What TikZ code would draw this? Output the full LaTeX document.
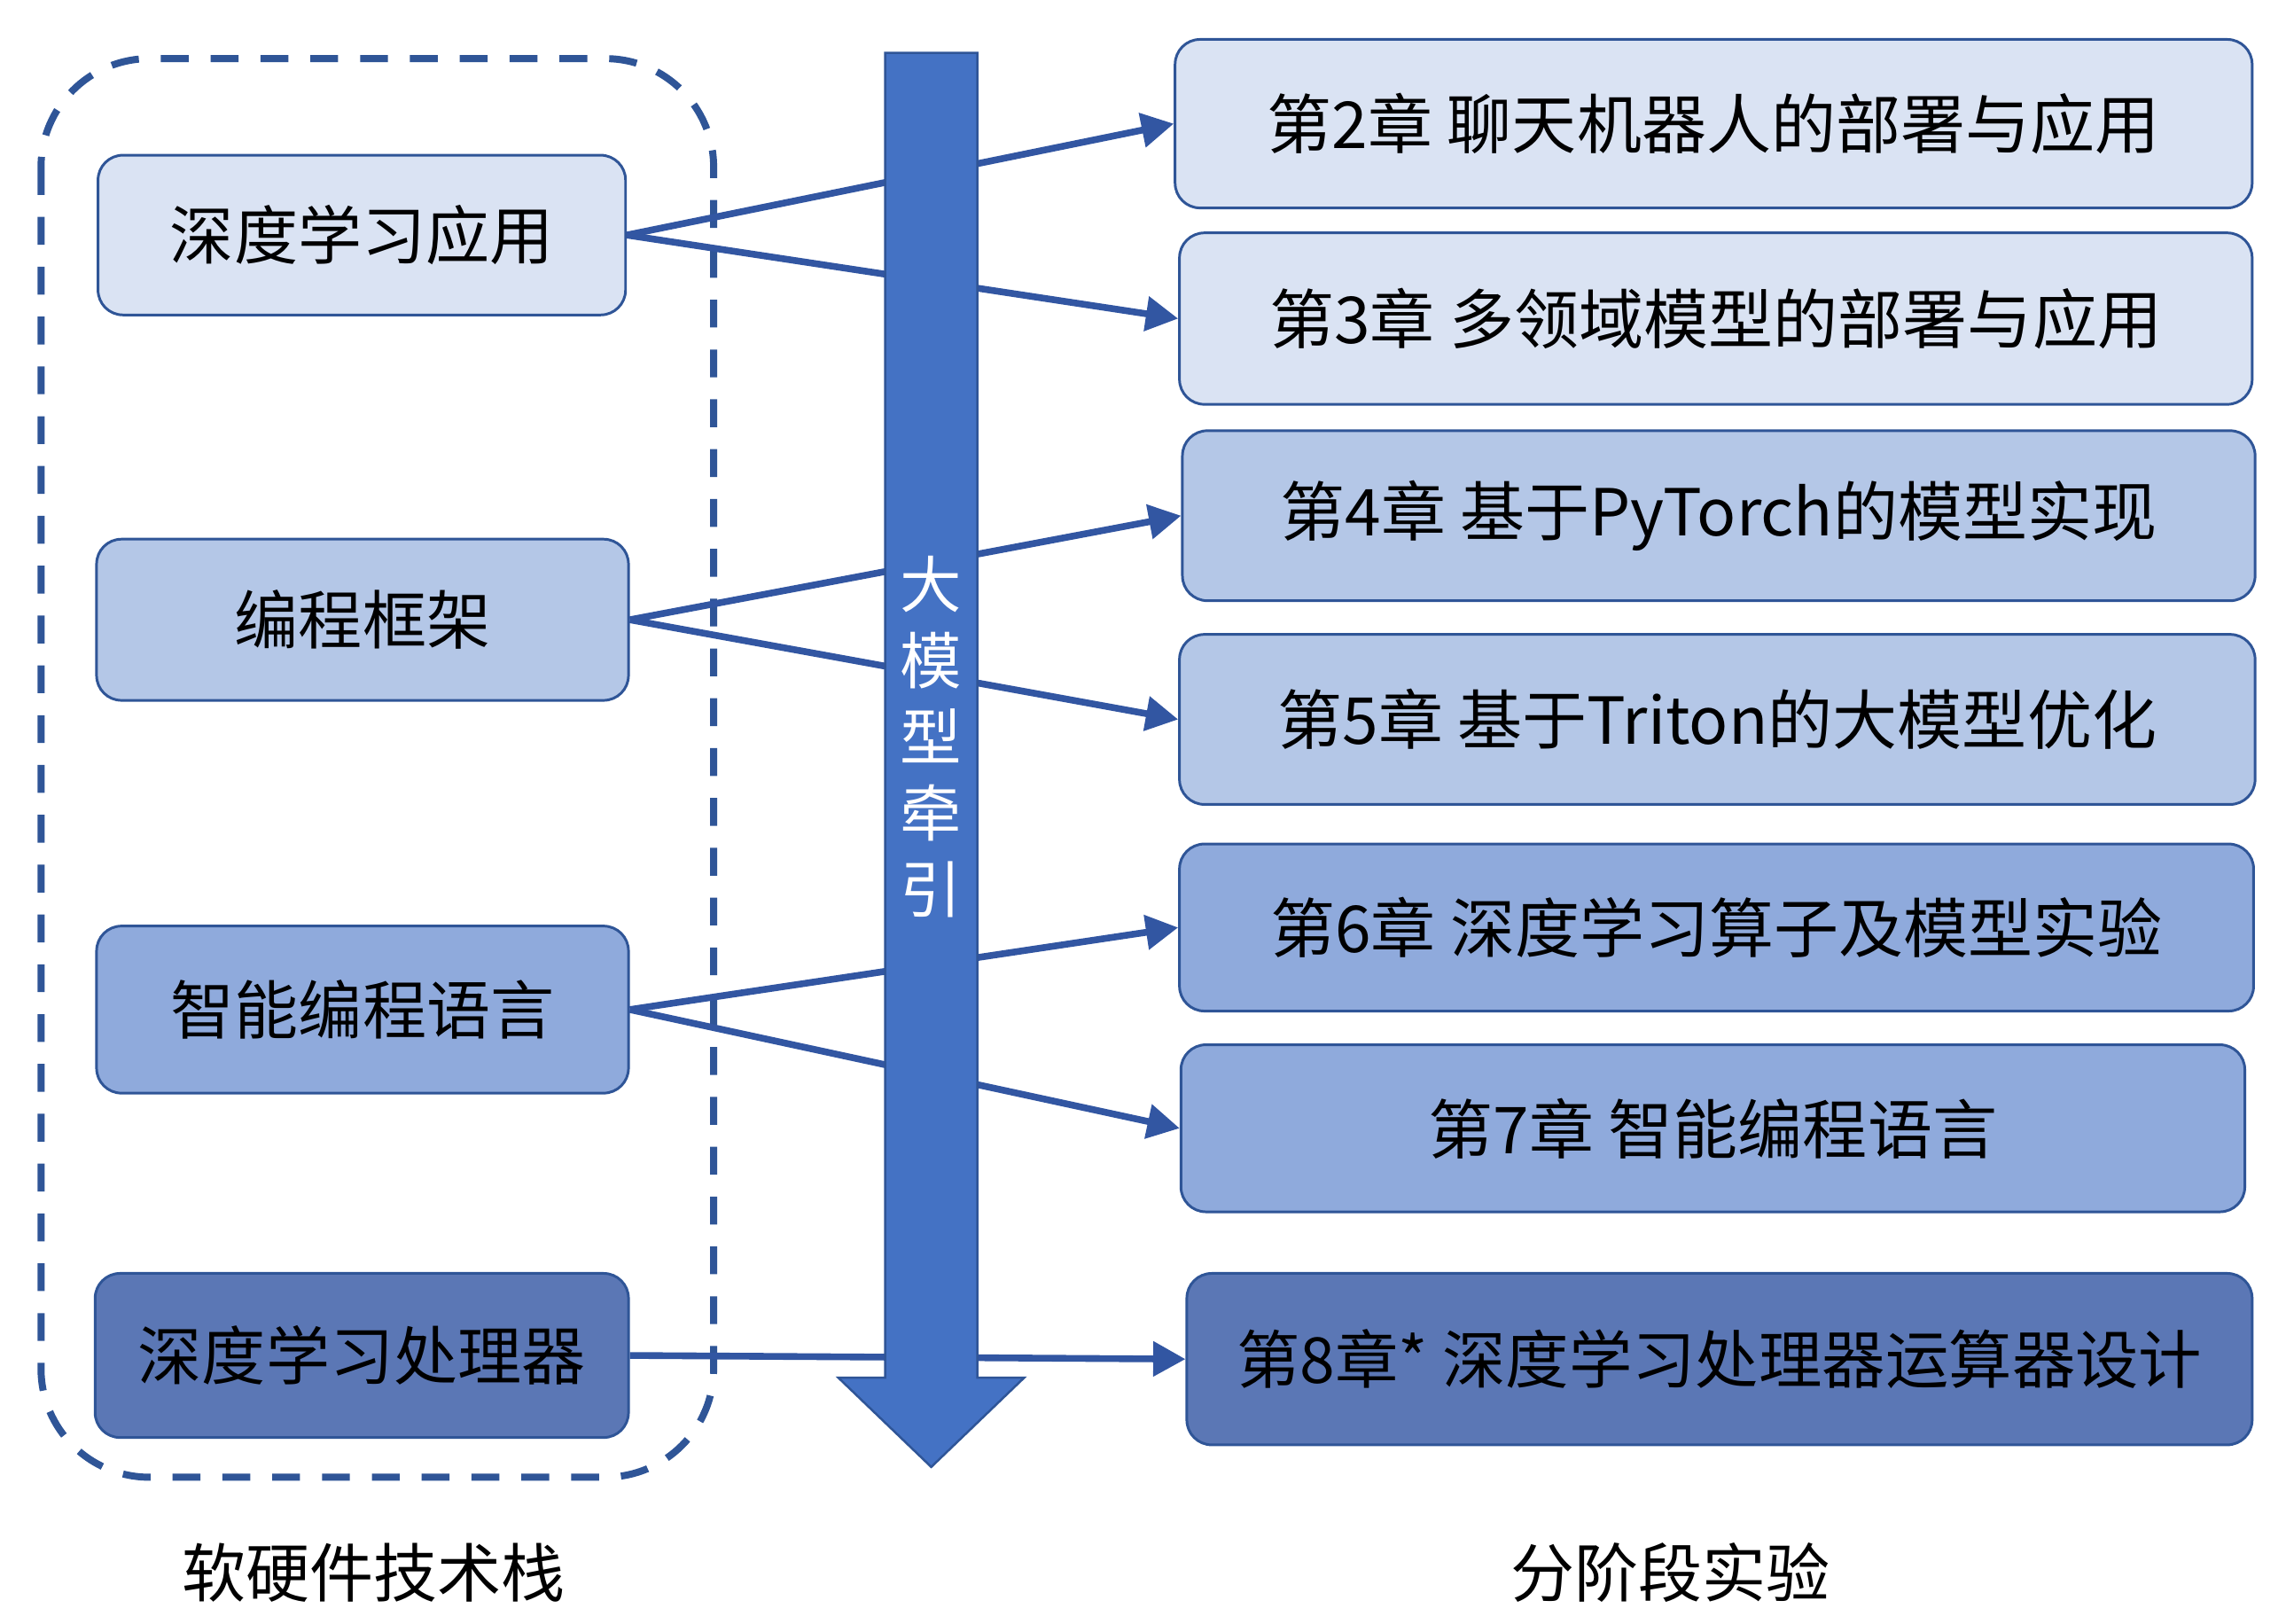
\documentclass[tikz,border=0pt]{standalone}
\usepackage{fontspec}
\setmainfont{Noto Sans CJK SC}
\usetikzlibrary{arrows.meta}
\definecolor{cA}{HTML}{DAE3F3}
\definecolor{cB}{HTML}{B4C7E7}
\definecolor{cC}{HTML}{8FAADC}
\definecolor{cD}{HTML}{5B77B5}
\definecolor{bd}{HTML}{2F5597}
\definecolor{ln}{HTML}{3256A2}
\definecolor{ar}{HTML}{4472C4}
\begin{document}
\begin{tikzpicture}[x=0.5pt,y=-0.5pt,
  box/.style={draw=bd, line width=0.9pt, rounded corners=8.5pt, inner sep=0pt, anchor=north west},
  ltxt/.style={font=\fontsize{21.8pt}{26pt}\selectfont},
  rtxt/.style={font=\fontsize{22.1pt}{26pt}\selectfont},
  conn/.style={draw=ln, line width=2.3pt, -{Triangle[length=11pt,width=11.5pt]}},
  lab/.style={font=\fontsize{21.8pt}{26pt}\selectfont, inner sep=0pt}]
\useasboundingbox (0,0) rectangle (1560,1107.6);
% dashed group frame
\draw[bd, line width=2.4pt, dash pattern=on 9.5pt off 7.5pt, rounded corners=37pt] (28,40) rectangle (487,1008);
% left boxes
\node[box, fill=cA, minimum width=180pt, minimum height=54.5pt, ltxt] (L1) at (66,105) {深度学习应用};
\node[box, fill=cB, minimum width=181.5pt, minimum height=55pt, ltxt] (L2) at (65,367) {编程框架};
\node[box, fill=cC, minimum width=181.5pt, minimum height=57pt, ltxt] (L3) at (65,631) {智能编程语言};
\node[box, fill=cD, minimum width=182pt, minimum height=56pt, ltxt] (L4) at (64,868) {深度学习处理器};
% right boxes
\node[box, fill=cA, minimum width=367.5pt, minimum height=57.5pt, rtxt] (R2) at (801,26) {第2章 聊天机器人的部署与应用};
\node[box, fill=cA, minimum width=366pt, minimum height=58.5pt, rtxt] (R3) at (804,158) {第3章 多领域模型的部署与应用};
\node[box, fill=cB, minimum width=366pt, minimum height=58pt, rtxt] (R4) at (806,293) {第4章 基于PyTorch的模型实现};
\node[box, fill=cB, minimum width=367pt, minimum height=58pt, rtxt] (R5) at (804,432) {第5章 基于Triton的大模型优化};
\node[box, fill=cC, minimum width=366.5pt, minimum height=57pt, rtxt] (R6) at (804,575) {第6章 深度学习算子及模型实验};
\node[box, fill=cC, minimum width=363pt, minimum height=57pt, rtxt] (R7) at (805,712) {第7章 智能编程语言};
\node[box, fill=cD, minimum width=363.5pt, minimum height=58.5pt, font=\fontsize{21.6pt}{26pt}\selectfont] (R8) at (809,868) {第8章* 深度学习处理器运算器设计};
% connectors
\draw[conn] (L1.east) -- (R2.west);
\draw[conn] (L1.east) -- (R3.west);
\draw[conn] (L2.east) -- (R4.west);
\draw[conn] (L2.east) -- (R5.west);
\draw[conn] (L3.east) -- (R6.west);
\draw[conn] (L3.east) -- (R7.west);
\draw[conn] (L4.east) -- (R8.west);
% central arrow
\fill[ar, draw=bd, line width=0.75pt] (604,36) -- (667,36) -- (667,940) -- (699,940) -- (635.5,1001) -- (572,940) -- (604,940) -- cycle;
\node[text=white, align=center, inner sep=0pt, font=\fontsize{21pt}{26pt}\selectfont] (mid) at (635.5,503) {大\\模\\型\\牵\\引};
% bottom labels
\node[lab] (bl) at (255,1073) {软硬件技术栈};
\node[lab] (br) at (1140,1073) {分阶段实验};
\end{tikzpicture}
\end{document}
